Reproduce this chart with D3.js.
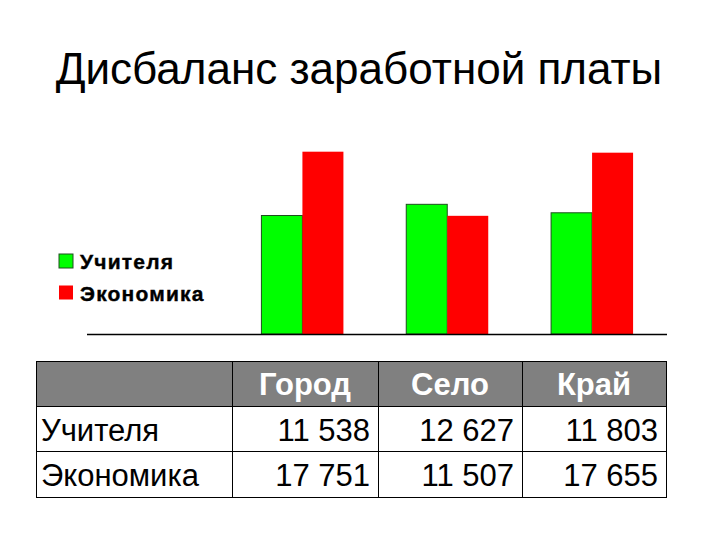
<!DOCTYPE html>
<html>
<head>
<meta charset="utf-8">
<script src="https://cdn.jsdelivr.net/npm/d3@7/dist/d3.min.js"></script>
<style>
  html, body { margin: 0; padding: 0; background: #ffffff; }
  svg { display: block; font-family: "Liberation Sans", Arial, sans-serif; }
</style>
</head>
<body>
<svg id="chart" width="720" height="540"></svg>
<script>
// ---- data ----
const title = "Дисбаланс заработной платы";
const categories = ["Город", "Село", "Край"];
const seriesNames = ["Учителя", "Экономика"];
const teachers = [11538, 12627, 11803];
const economy = [17751, 11507, 17655];
const seriesColors = ["#00ff00", "#ff0000"];

const seriesValues = [teachers, economy];

const svg = d3.select("#chart");
const W = 720, H = 540;
svg.append("rect").attr("width", W).attr("height", H).attr("fill", "#ffffff");

// ---- title ----
svg.append("text")
  .attr("x", 359).attr("y", 84)
  .attr("text-anchor", "middle")
  .attr("font-size", 44)
  .attr("fill", "#000")
  .text(title);

// ---- scales ----
const baseY = 334;
const y = d3.scaleLinear().domain([0, 20000]).range([baseY, baseY - 205.4]);
const x = d3.scaleBand().domain(categories).range([230, 664.5]).padding(0);
const barW = 41;
const xs = d3.scaleBand().domain(seriesNames)
  .range([(x.bandwidth() - 2 * barW) / 2, (x.bandwidth() + 2 * barW) / 2]).padding(0);

// ---- bars ----
const groups = svg.append("g").selectAll("g")
  .data(categories)
  .join("g")
  .attr("transform", d => `translate(${x(d)},0)`);

groups.selectAll("rect")
  .data((c, ci) => seriesNames.map((s, si) => ({ s, si, v: seriesValues[si][ci] })))
  .join("rect")
  .attr("x", d => xs(d.s))
  .attr("y", d => y(d.v))
  .attr("width", xs.bandwidth())
  .attr("height", d => y(0) - y(d.v))
  .attr("fill", d => seriesColors[d.si])
  .attr("stroke", d => d.si === 0 ? "#1f4f1f" : "none")
  .attr("stroke-width", 1);

// ---- baseline axis ----
svg.append("line")
  .attr("x1", 87).attr("x2", 667)
  .attr("y1", y(0) + 0.5).attr("y2", y(0) + 0.5)
  .attr("stroke", "#000").attr("stroke-width", 1.5);

// ---- legend ----
const legend = svg.append("g").selectAll("g")
  .data(seriesNames)
  .join("g")
  .attr("transform", (d, i) => `translate(59,${254 + i * 31.5})`);
legend.append("rect")
  .attr("width", 14).attr("height", 14)
  .attr("fill", (d, i) => seriesColors[i])
  .attr("stroke", (d, i) => i === 0 ? "#1f4f1f" : "none")
  .attr("stroke-width", 1);
legend.append("text")
  .attr("x", 21).attr("y", 15)
  .attr("font-size", 21).attr("font-weight", "bold")
  .attr("letter-spacing", 1.2)
  .attr("stroke", "#000").attr("stroke-width", 0.4)
  .attr("fill", "#000")
  .text(d => d);

// ---- data table ----
const fmt = d3.formatLocale({ decimal: ",", thousands: " ", grouping: [3], currency: ["", ""] }).format(",d");
const colEdges = [36, 232, 378, 522, 666];
const rowEdges = [361, 406, 451, 497];
const table = svg.append("g");

// header background
table.append("rect")
  .attr("x", colEdges[0]).attr("y", rowEdges[0])
  .attr("width", colEdges[4] - colEdges[0]).attr("height", rowEdges[1] - rowEdges[0])
  .attr("fill", "#808080");

// grid lines
rowEdges.forEach(ry => {
  table.append("line").attr("x1", colEdges[0]).attr("x2", colEdges[4])
    .attr("y1", ry + 0.5).attr("y2", ry + 0.5).attr("stroke", "#000").attr("stroke-width", 1);
});
colEdges.forEach(cx => {
  table.append("line").attr("x1", cx + 0.5).attr("x2", cx + 0.5)
    .attr("y1", rowEdges[0]).attr("y2", rowEdges[3] + 1).attr("stroke", "#000").attr("stroke-width", 1);
});

// header texts
categories.forEach((c, i) => {
  table.append("text")
    .attr("x", (colEdges[i + 1] + colEdges[i + 2]) / 2)
    .attr("y", 395)
    .attr("text-anchor", "middle")
    .attr("font-size", 31).attr("font-weight", "bold")
    .attr("fill", "#ffffff")
    .text(c);
});

// rows
const rowBaselines = [441, 486];
seriesNames.forEach((s, si) => {
  table.append("text")
    .attr("x", 41).attr("y", rowBaselines[si])
    .attr("font-size", 31).attr("fill", "#000")
    .text(s);
  seriesValues[si].forEach((v, ci) => {
    table.append("text")
      .attr("x", colEdges[ci + 2] - 8).attr("y", rowBaselines[si])
      .attr("text-anchor", "end")
      .attr("font-size", 31).attr("fill", "#000")
      .text(fmt(v));
  });
});
</script>
</body>
</html>
